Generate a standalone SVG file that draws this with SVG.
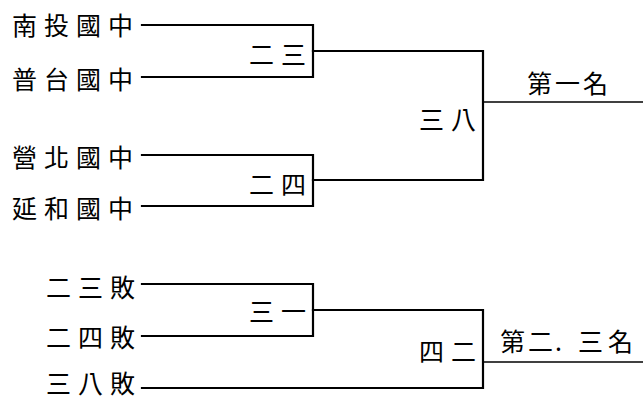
<svg xmlns="http://www.w3.org/2000/svg" width="643" height="400" viewBox="0 0 643 400">
<style>
text{font-family:"Noto Sans CJK TC","Noto Sans CJK SC",sans-serif;font-size:25px;fill:#000;letter-spacing:7px}
.ln{fill:none;stroke:#000;stroke-width:2.2;stroke-linecap:square}
.fin{fill:none;stroke:#000;stroke-width:1.6}
</style>
<rect width="643" height="400" fill="#fff"/>
<g id="connectors">
<path class="ln" d="M142 25 H313 V77 H142"/>
<path class="ln" d="M142 155 H313 V206 H142"/>
<path class="ln" d="M313 51 H483 V180 H313"/>
<path class="fin" d="M483 102 H643"/>
<path class="ln" d="M142 284 H313 V336 H142"/>
<path class="ln" d="M313 310 H483 V388 H142"/>
<path class="fin" d="M483 362 H643"/>
</g>
<g id="t1"><text x="12" y="35">南投國中</text></g>
<g id="t2"><text x="12" y="89">普台國中</text></g>
<g id="t3"><text x="12" y="167">營北國中</text></g>
<g id="t4"><text x="12" y="218">延和國中</text></g>
<g id="m23"><text x="249" y="64">二三</text></g>
<g id="m24"><text x="249" y="194">二四</text></g>
<g id="m38"><text x="419" y="129">三八</text></g>
<g id="first"><text x="527" y="93" style="letter-spacing:3px">第一名</text></g>
<g id="l23"><text x="46" y="297">二三敗</text></g>
<g id="l24"><text x="46" y="347">二四敗</text></g>
<g id="l38"><text x="46" y="393">三八敗</text></g>
<g id="m31"><text x="249" y="321">三一</text></g>
<g id="m42"><text x="419" y="361">四二</text></g>
<g id="second"><text x="500 528 555 578 608" y="351" style="letter-spacing:0">第二.三名</text></g>
</svg>
